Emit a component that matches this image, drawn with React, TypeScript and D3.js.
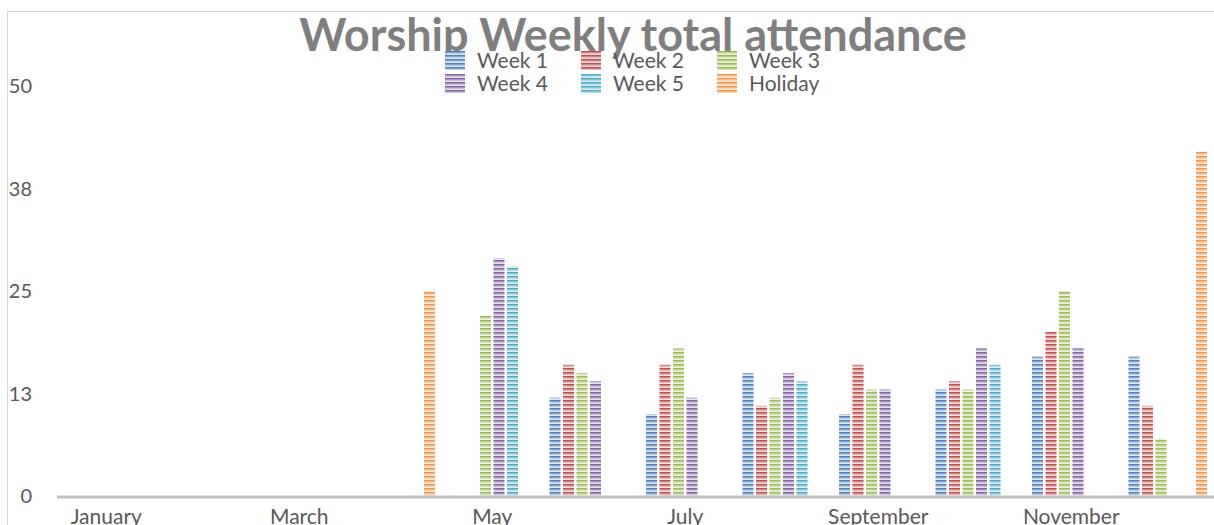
import { useEffect, useRef } from 'react';
import * as d3 from 'd3';

const months = [
  'January', 'February', 'March', 'April', 'May', 'June',
  'July', 'August', 'September', 'October', 'November', 'December',
];
const seriesNames = ['Week 1', 'Week 2', 'Week 3', 'Week 4', 'Week 5', 'Holiday'];
const seriesColors = ['#4f81bd', '#c0504d', '#9bbb59', '#8064a2', '#4bacc6', '#f79646'];

// attendance per month, 0 = no service recorded
const week1 = [0, 0, 0, 0, 0, 12, 10, 15, 10, 13, 17, 17];
const week2 = [0, 0, 0, 0, 0, 16, 16, 11, 16, 14, 20, 11];
const week3 = [0, 0, 0, 0, 22, 15, 18, 12, 13, 13, 25, 7];
const week4 = [0, 0, 0, 0, 29, 14, 12, 15, 13, 18, 18, 0];
const week5 = [0, 0, 0, 0, 28, 0, 0, 14, 0, 16, 0, 0];
const holiday = [0, 0, 0, 25, 0, 0, 0, 0, 0, 0, 0, 42];

const yTicks = [0, 12.5, 25, 37.5, 50];
const xLabelMonths = ['January', 'March', 'May', 'July', 'September', 'November'];

const App = () => {
  const svgRef = useRef(null);

  useEffect(() => {
    const width = 1214;
    const height = 525;
    const font = 'Lato, "Open Sans", sans-serif';
    const values = [week1, week2, week3, week4, week5, holiday];

    const svg = d3.select(svgRef.current).attr('width', width).attr('height', height);
    svg.selectAll('*').remove();

    // striped fills
    const defs = svg.append('defs');
    seriesColors.forEach((c, i) => {
      const p = defs
        .append('pattern')
        .attr('id', `stripe${i}`)
        .attr('patternUnits', 'userSpaceOnUse')
        .attr('width', 8)
        .attr('height', 4);
      p.append('rect').attr('width', 8).attr('height', 4).attr('fill', '#fff');
      [1, 0.7, 0.4, 0.2].forEach((o, k) => {
        p.append('rect')
          .attr('y', k)
          .attr('width', 8)
          .attr('height', 1)
          .attr('fill', c)
          .attr('fill-opacity', o);
      });
    });

    // chart outline
    svg
      .append('rect')
      .attr('x', 7.5)
      .attr('y', 11.5)
      .attr('width', width)
      .attr('height', height)
      .attr('fill', 'none')
      .attr('stroke', '#d9d9d9');

    const x = d3.scaleBand().domain(months).range([58, 58 + 12 * 96.5]).padding(0);
    const xs = d3
      .scaleBand()
      .domain(seriesNames)
      .range([0, x.bandwidth()])
      .paddingInner(0.185)
      .paddingOuter(0.667);
    const y = d3.scaleLinear().domain([0, 50]).range([496, 86]);

    const rows = months.map((m, mi) => ({ month: m, vals: values.map((s) => s[mi]) }));

    const groups = svg
      .append('g')
      .selectAll('g')
      .data(rows)
      .join('g')
      .attr('transform', (d) => `translate(${x(d.month)},0)`);

    groups
      .selectAll('rect')
      .data((d) => d.vals.map((v, i) => ({ v, i })))
      .join('rect')
      .attr('x', (d) => xs(seriesNames[d.i]))
      .attr('width', xs.bandwidth())
      .attr('y', (d) => y(d.v))
      .attr('height', (d) => y(0) - y(d.v))
      .attr('fill', (d) => `url(#stripe${d.i})`);

    // category axis line
    svg
      .append('line')
      .attr('x1', 57)
      .attr('x2', width)
      .attr('y1', y(0) + 1)
      .attr('y2', y(0) + 1)
      .attr('stroke', '#bfbfbf')
      .attr('stroke-width', 3);

    svg
      .append('g')
      .selectAll('text')
      .data(xLabelMonths)
      .join('text')
      .attr('x', (d) => x(d) + x.bandwidth() / 2)
      .attr('y', 524)
      .attr('text-anchor', 'middle')
      .attr('fill', '#595959')
      .style('font-family', font)
      .style('font-size', '21px')
      .text((d) => d);

    svg
      .append('g')
      .selectAll('text')
      .data(yTicks)
      .join('text')
      .attr('x', 32)
      .attr('y', (d) => y(d) + 7)
      .attr('text-anchor', 'end')
      .attr('fill', '#595959')
      .style('font-family', font)
      .style('font-size', '20px')
      .text((d) => Math.round(d));

    svg
      .append('text')
      .attr('x', 633)
      .attr('y', 51)
      .attr('text-anchor', 'middle')
      .attr('fill', '#7f7f7f')
      .style('font-family', font)
      .style('font-size', '45px')
      .style('font-weight', 'bold')
      .text('Worship Weekly total attendance');

    // legend, 3 columns x 2 rows
    const legend = svg
      .append('g')
      .selectAll('g')
      .data(seriesNames)
      .join('g')
      .attr('transform', (d, i) => `translate(${445 + (i % 3) * 136},${51 + Math.floor(i / 3) * 23})`);
    legend
      .append('rect')
      .attr('width', 20)
      .attr('height', 19)
      .attr('fill', (d, i) => `url(#stripe${i})`);
    legend
      .append('text')
      .attr('x', 32)
      .attr('y', 17)
      .attr('fill', '#595959')
      .style('font-family', font)
      .style('font-size', '21px')
      .text((d) => d);
  }, []);

  return (
    <div style={{ position: 'absolute', left: 0, top: 0 }}>
      <svg ref={svgRef} style={{ display: 'block' }}></svg>
    </div>
  );
};

export default App;
